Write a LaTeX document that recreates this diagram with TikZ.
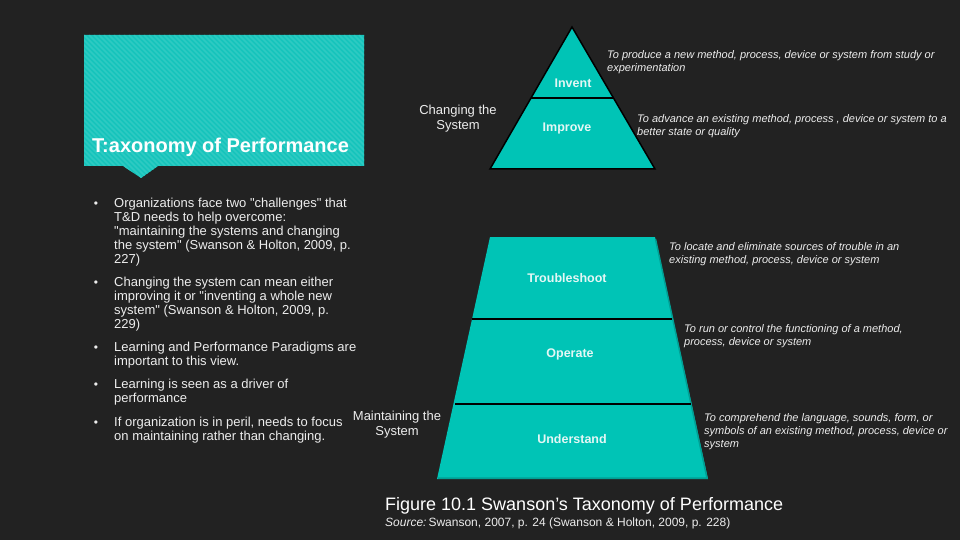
\documentclass[tikz,border=0pt]{standalone}
\usepackage{fontspec}
\setmainfont{Liberation Sans}[Ligatures=TeXOff]
\definecolor{bg}{HTML}{222222}
\definecolor{tealA}{HTML}{00C4B6}
\definecolor{tealD}{HTML}{00A095}
\definecolor{boxT}{HTML}{16C4BC}
\definecolor{stripe}{HTML}{2ECAC2}
\definecolor{txt}{HTML}{EDEDED}
\definecolor{lvl}{HTML}{E4F7F5}
\begin{document}
\begin{tikzpicture}[x=1pt,y=-1pt,
  bodytxt/.style={anchor=north west, inner sep=0pt, align=left, text=txt,
    font=\fontsize{13}{14}\selectfont},
  bul/.style={anchor=center, inner sep=0pt, text=txt, font=\fontsize{12}{12}\selectfont},
  sidetxt/.style={anchor=center, inner sep=0pt, align=center, text=txt,
    font=\fontsize{13}{15}\selectfont},
  lvltxt/.style={anchor=center, inner sep=0pt, text=lvl,
    font=\bfseries\fontsize{12.5}{14}\selectfont},
  desctxt/.style={anchor=north west, inner sep=0pt, align=left, text=txt,
    font=\itshape\fontsize{11}{13}\selectfont},
  divider/.style={draw=black, line width=2pt}
]
\fill[bg] (0,0) rectangle (960,540);
\useasboundingbox (0,0) rectangle (960,540);

% callout box
\fill[boxT] (84,35) -- (364,35) -- (364,166) -- (158,166) -- (141,178) -- (123,166) -- (84,166) -- cycle;
\begin{scope}
  \clip (84,35) -- (364,35) -- (364,166) -- (158,166) -- (141,178) -- (123,166) -- (84,166) -- cycle;
  \foreach \i in {-150,-145,...,285} {
    \draw[stripe, line width=1.5pt] (84+\i,35) -- ++(150,150);
  }
\end{scope}
\node[anchor=west, inner sep=0pt, text=white, font=\bfseries\fontsize{20}{22}\selectfont] (title) at (92,147) {T:axonomy of Performance};

% bullets
\node[bul] (b1) at (96,204.5) {•};
\node[bodytxt] (t1) at (114,197.5) {Organizations face two "challenges" that\\T\&D needs to help overcome:\\"maintaining the systems and changing\\the system" (Swanson \& Holton, 2009, p.\\227)};
\node[bul] (b2) at (96,283.5) {•};
\node[bodytxt] (t2) at (114,276.5) {Changing the system can mean either\\improving it or "inventing a whole new\\system" (Swanson \& Holton, 2009, p.\\229)};
\node[bul] (b3) at (96,348.5) {•};
\node[bodytxt] (t3) at (114,341.5) {Learning and Performance Paradigms are\\important to this view.};
\node[bul] (b4) at (96,385.5) {•};
\node[bodytxt] (t4) at (114,378.5) {Learning is seen as a driver of\\performance};
\node[bul] (b5) at (96,423.5) {•};
\node[bodytxt] (t5) at (114,416.5) {If organization is in peril, needs to focus\\on maintaining rather than changing.};

% side labels
\node[sidetxt] (chg) at (458,118.5) {Changing the\\System};
\node[sidetxt] (mnt) at (397,424.5) {Maintaining the\\System};

% top triangle
\draw[fill=tealA, draw=black, line width=1.5pt, line join=miter] (572,27) -- (655,169) -- (490,169) -- cycle;
\draw[divider] (531,98.5) -- (613,98.5);

% lower trapezoid
\fill[tealA] (490,237) -- (655,237) -- (708,479) -- (437,479) -- cycle;
\draw[tealD, line width=1.5pt] (655.5,239) -- (707,478.2) -- (438,478.2);
\draw[divider] (472,319) -- (672,319);
\draw[divider] (455,404) -- (691,404);

% level labels
\node[lvltxt] (inv) at (573,83) {Invent};
\node[lvltxt] (imp) at (567,128) {Improve};
\node[lvltxt] (trb) at (567,278) {Troubleshoot};
\node[lvltxt] (opr) at (570,354) {Operate};
\node[lvltxt] (und) at (572,439) {Understand};

% descriptions
\node[desctxt] (d1) at (607,50.5) {To produce a new method, process, device or system from study or\\experimentation};
\node[desctxt] (d2) at (637,114.5) {To advance an existing method, process , device or system to a\\better state or quality};
\node[desctxt] (d3) at (669,242.5) {To locate and eliminate sources of trouble in an\\existing method, process, device or system};
\node[desctxt] (d4) at (684,324.5) {To run or control the functioning of a method,\\process, device or system};
\node[desctxt] (d5) at (704,413.5) {To comprehend the language, sounds, form, or\\symbols of an existing method, process, device or\\system};

% caption
\node[anchor=west, inner sep=0pt, text=white, font=\fontsize{18}{20}\selectfont] (cap) at (385,506) {Figure 10.1 Swanson’s Taxonomy of Performance};
\node[anchor=west, inner sep=0pt, text=txt, font=\fontsize{12}{14}\selectfont] (src) at (385,523.5) {\textit{Source:}\,Swanson, 2007, p. 24 (Swanson \& Holton, 2009, p. 228)};
\end{tikzpicture}
\end{document}
